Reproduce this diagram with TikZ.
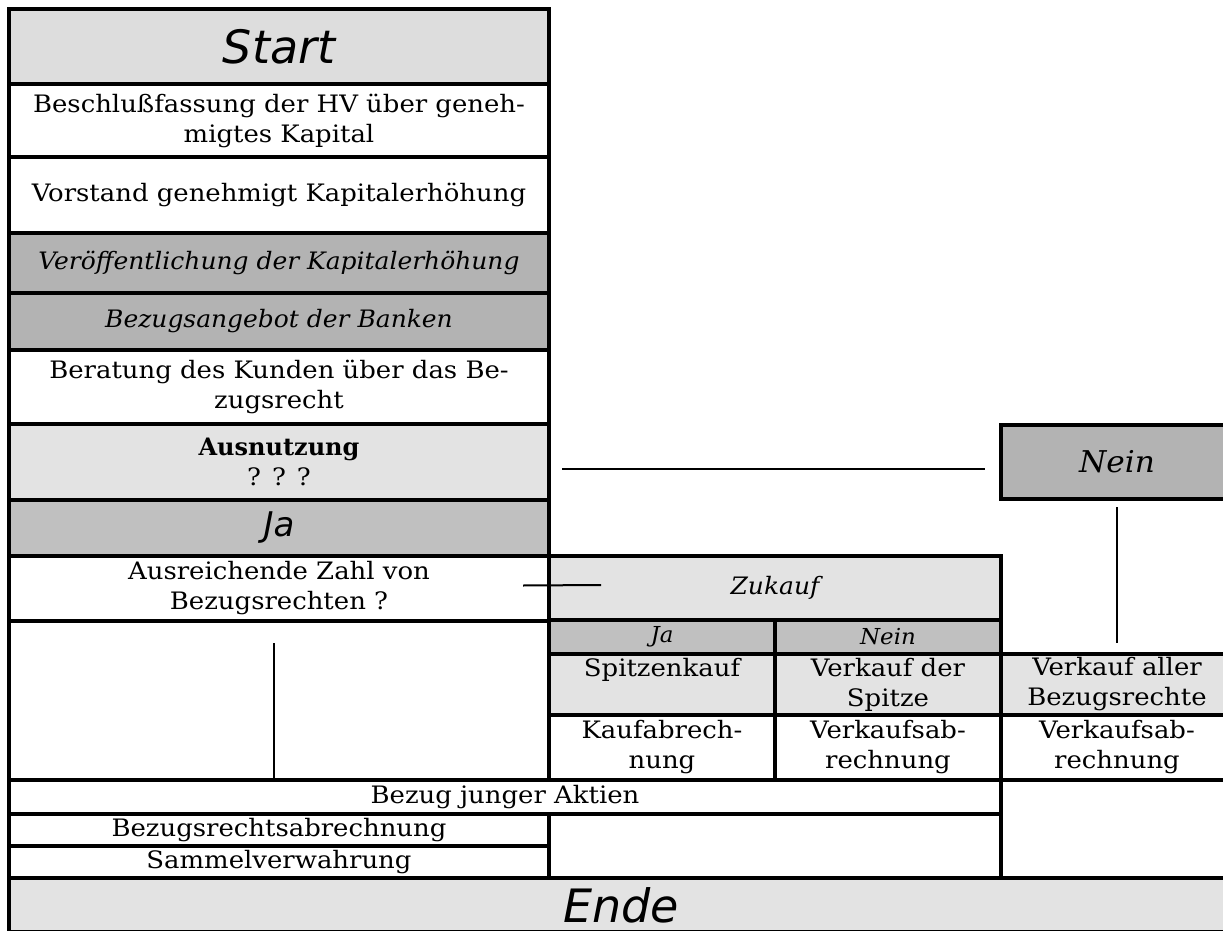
\documentclass[tikz,border=0pt]{standalone}
\usepackage{fontspec}
\setmainfont{DejaVu Serif}[UprightFeatures={FakeStretch=1.08},ItalicFeatures={FakeStretch=1.04}]
\newfontfamily\hdfont{DejaVu Sans Oblique}
\definecolor{gStart}{HTML}{DDDDDD}
\definecolor{gDark}{HTML}{B3B3B3}
\definecolor{gMid}{HTML}{C0C0C0}
\definecolor{gLight}{HTML}{E3E3E3}
\newcommand\bodyfnt{\fontsize{24}{30}\selectfont}
\tikzset{
  cell/.style={draw, line width=3.3pt, inner sep=0pt, outer sep=0pt, align=center, font=\bodyfnt},
  head/.style={font=\hdfont\fontsize{46}{50}\selectfont},
  subhead/.style={font=\hdfont\fontsize{34}{38}\selectfont},
  itxt/.style={font=\bodyfnt\itshape},
  smallit/.style={font=\fontsize{22}{26}\selectfont\itshape},
  bignein/.style={font=\fontsize{30}{34}\selectfont\itshape},
  conn/.style={line width=2pt}
}
\begin{document}
\begin{tikzpicture}[x=1pt,y=-1pt]
\useasboundingbox (0,0) rectangle (1223,931);
\clip (0,0) rectangle (1223,931);
% left column
\node[cell, fill=gStart, head, minimum width=540pt, minimum height=75pt] (start) at (279,46.5) {Start};
\node[cell, fill=white, minimum width=540pt, minimum height=73pt] (besch) at (279,120.5) {Beschlußfassung der HV über geneh-\\migtes Kapital};
\node[cell, fill=white, minimum width=540pt, minimum height=76pt] (vorst) at (279,195) {Vorstand genehmigt Kapitalerhöhung};
\node[cell, fill=gDark, itxt, minimum width=540pt, minimum height=60pt] (veroeff) at (279,263) {Veröffentlichung der Kapitalerhöhung};
\node[cell, fill=gDark, itxt, minimum width=540pt, minimum height=57pt] (bezang) at (279,321.5) {Bezugsangebot der Banken};
\node[cell, fill=white, minimum width=540pt, minimum height=74pt] (berat) at (279,387) {Beratung des Kunden über das Be-\\zugsrecht};
\node[cell, fill=gLight, minimum width=540pt, minimum height=76pt] (ausn) at (279,462) {\textbf{Ausnutzung}\\? ? ?};
\node[cell, fill=gMid, subhead, minimum width=540pt, minimum height=56pt] (ja) at (279,528) {Ja};
\node[cell, fill=white, minimum width=540pt, minimum height=65pt] (ausr) at (279,588.5) {Ausreichende Zahl von\\Bezugsrechten ?};
\node[cell, fill=white, minimum width=540pt, minimum height=159pt] (leftempty) at (279,700.5) {};
% right branch
\node[cell, fill=gDark, bignein, minimum width=232pt, minimum height=74pt] (neinbig) at (1117,462) {Nein};
\node[cell, fill=gLight, itxt, minimum width=452pt, minimum height=64pt] (zukauf) at (775,588) {Zukauf};
\node[cell, fill=gMid, smallit, minimum width=226pt, minimum height=34pt] (jak) at (662,637) {Ja};
\node[cell, fill=gMid, smallit, minimum width=226pt, minimum height=34pt] (neink) at (888,637) {Nein};
\node[cell, fill=gLight, minimum width=226pt, minimum height=61pt] (spitzk) at (662,684.5) {Spitzenkauf\\\vphantom{Spitze}};
\node[cell, fill=gLight, minimum width=226pt, minimum height=61pt] (verksp) at (888,684.5) {Verkauf der\\Spitze};
\node[cell, fill=gLight, minimum width=232pt, minimum height=61pt] (verkall) at (1117,684.5) {Verkauf aller\\Bezugsrechte};
\node[cell, fill=white, minimum width=226pt, minimum height=65pt] (kaufab) at (662,747.5) {Kaufabrech-\\nung};
\node[cell, fill=white, minimum width=226pt, minimum height=65pt] (verkabA) at (888,747.5) {Verkaufsab-\\rechnung};
\node[cell, fill=white, minimum width=232pt, minimum height=65pt] (verkabB) at (1117,747.5) {Verkaufsab-\\rechnung};
% bottom
\node[cell, fill=white, minimum width=992pt, minimum height=34pt] (bezug) at (505,797) {Bezug junger Aktien};
\node[cell, fill=white, minimum width=540pt, minimum height=32pt] (bra) at (279,830) {Bezugsrechtsabrechnung};
\node[cell, fill=white, minimum width=540pt, minimum height=32pt] (samm) at (279,862) {Sammelverwahrung};
\node[cell, fill=white, minimum width=452pt, minimum height=64pt] (emptymid) at (775,846) {};
\node[cell, fill=white, minimum width=232pt, minimum height=98pt] (emptyright) at (1117,829) {};
\node[cell, fill=gLight, head, minimum width=1224pt, minimum height=54pt] (ende) at (621,905) {Ende};
% connectors
\draw[conn] ([xshift=13pt,yshift=-7pt]ausn.east) -- ([xshift=-16pt,yshift=-7pt]neinbig.west);
\draw[conn] ([xshift=-26pt,yshift=3pt]ausr.east) -- ([xshift=52pt,yshift=3pt]zukauf.west);
\draw[conn] ([yshift=-8pt]neinbig.south) -- ([yshift=11pt]verkall.north);
\draw[conn] ([xshift=-5pt,yshift=-22pt]ausr.south) -- ([xshift=-5pt,yshift=2pt]ausr.south |- bezug.north);
\end{tikzpicture}
\end{document}
